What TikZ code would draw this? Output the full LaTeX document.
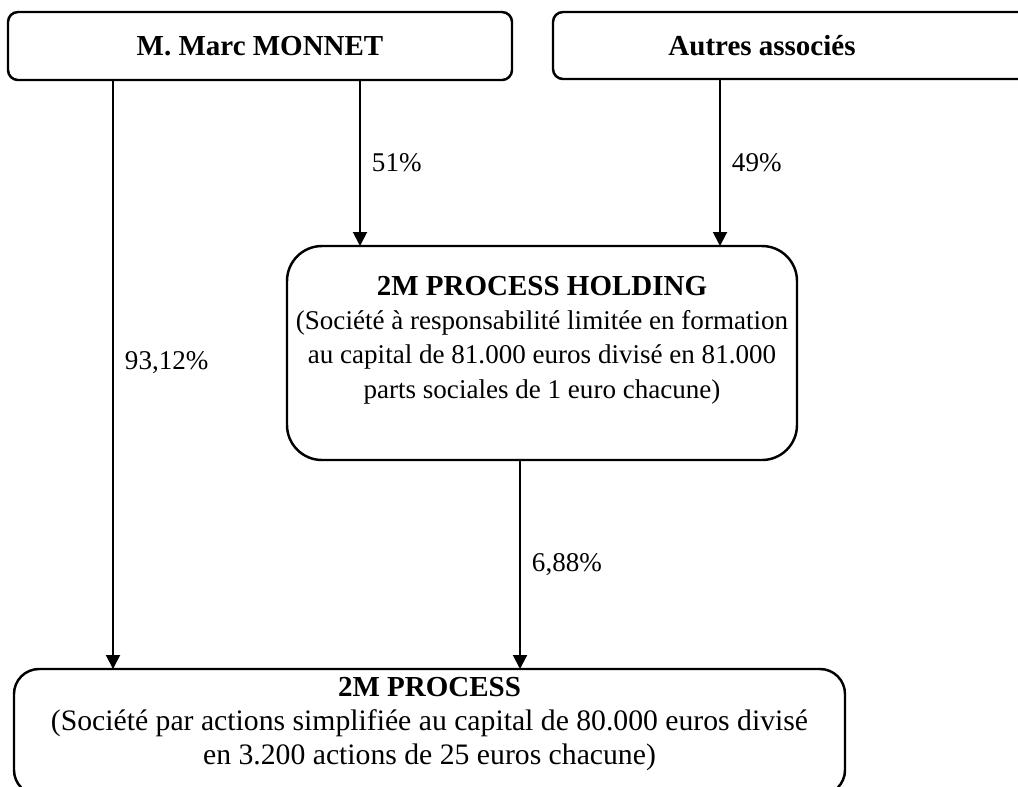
\documentclass[tikz,border=0pt]{standalone}
\usepackage{fontspec}
\setmainfont{Liberation Serif}
\usetikzlibrary{
    arrows.meta,
    calc,
    positioning
}
\newcommand{\entitytitle}[1]{{\fontsize{16.5}{19.6}\selectfont\textbf{#1}}}
\tikzset{
    every picture/.style = {
        > = {Triangle[width = 0.28cm, length = 0.28cm]},
        line width = 1.1pt
    },
    entity/.style = {
        draw,
        line width = 1.4pt,
        inner sep = 0pt,
        outer sep = 0pt,
        align = center
    },
    caption/.style = {
        align = center,
        inner sep = 0pt
    },
    share/.style = {
        right,
        inner sep = 0pt,
        xshift = 0.22cm
    }
}

\begin{document}
\begin{tikzpicture}[font = {\fontsize{15.4}{19.6}\selectfont}]
    \useasboundingbox (0,0) rectangle (20.36,-15.72);
    \clip (0,0) rectangle (20.36,-15.72);

    % shareholders
    \node[entity, rounded corners = 0.2cm, minimum width = 10.08cm, minimum height = 1.36cm] (marc) at (5.20,-0.92) {\entitytitle{M. Marc MONNET}};
    \node[entity, rounded corners = 0.2cm, minimum width = 9.94cm, minimum height = 1.34cm,
          label = {[caption, xshift = -0.79cm]center:{\entitytitle{Autres associés}}}] (others) at (16.03,-0.91) {};

    % companies
    \node[entity, rounded corners = 0.7cm, minimum width = 10.2cm, minimum height = 4.28cm,
          label = {[caption, yshift = 0.26cm]center:{\entitytitle{2M PROCESS HOLDING}\\(Société à responsabilité limitée en formation\\au capital de 81.000 euros divisé en 81.000\\parts sociales de 1 euro chacune)}}] (holding) at (10.84,-7.06) {};
    \node[entity, rounded corners = 0.5cm, minimum width = 16.62cm, minimum height = 2.52cm,
          label = {[caption, yshift = 0.16cm, font = {\fontsize{16.9}{19.6}\selectfont}]center:{\entitytitle{2M PROCESS}\\(Société par actions simplifiée au capital de 80.000 euros divisé\\en 3.200 actions de 25 euros chacune)}}] (process) at (8.59,-14.64) {};

    \coordinate (m1) at ([xshift = 2.10cm]marc.south west);
    \coordinate (m2) at ([xshift = 7.04cm]marc.south west);
    \coordinate (o1) at ([xshift = 3.34cm]others.south west);
    \coordinate (h1) at ([xshift = 4.66cm]holding.south west);

    \path[->] (m1) edge node[share, pos = 0.48] {93,12\%} (m1 |- process.north);
    \path[->] (m2) edge node[share, pos = 0.5] {51\%} (m2 |- holding.north);
    \path[->] (o1) edge node[share, pos = 0.5] {49\%} (o1 |- holding.north);
    \path[->] (h1) edge node[share, pos = 0.5] {6,88\%} (h1 |- process.north);
\end{tikzpicture}
\end{document}
